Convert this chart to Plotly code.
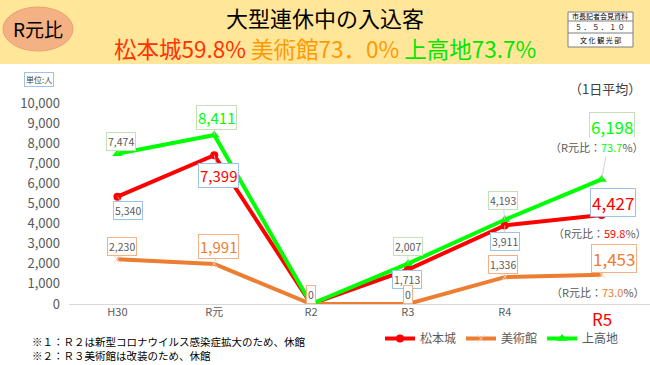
import plotly.graph_objects as go

# ---- data ----
categories = ["H30", "R元", "R2", "R3", "R4", "R5"]
matsumoto = [5340, 7399, 0, 1713, 3911, 4427]
museum = [2230, 1991, 0, 0, 1336, 1453]
kamikochi = [7474, 8411, 0, 2007, 4193, 6198]
tick_labels = ["H30", "R元", "R2", "R3", "R4", ""]
ratio_matsumoto = "59.8"
ratio_museum = "73.0"
ratio_kamikochi = "73.7"

FONT = "Noto Sans CJK JP"
RED = "#FF0000"
ORANGE = "#ED7D31"
GREEN = "#00FF00"
GRAY = "#595959"

W, H = 650, 365
PL, PR, PT, PB = 69, 650, 103, 304


def PX(x):
    return (x - PL) / (PR - PL)


def PY(y):
    return (PB - y) / (PB - PT)


fig = go.Figure()
fig.add_trace(go.Scatter(x=categories, y=matsumoto, name="松本城", mode="lines+markers",
                         line=dict(color=RED, width=4),
                         marker=dict(symbol="circle", size=8, color=RED)))
fig.add_trace(go.Scatter(x=categories, y=museum, name="美術館", mode="lines+markers",
                         line=dict(color=ORANGE, width=4),
                         marker=dict(symbol="x-thin", size=7, color="#F8CBAD",
                                     line=dict(width=1, color="#F8CBAD"))))
fig.add_trace(go.Scatter(x=categories, y=kamikochi, name="上高地", mode="lines+markers",
                         line=dict(color=GREEN, width=4),
                         marker=dict(symbol="triangle-up", size=9, color=GREEN)))

ann = []


def label(cat_i, val, ax, ay, border, big=None, size=10.5):
    txt = f"{val:,}"
    color = GRAY if big is None else big
    ann.append(dict(x=categories[cat_i], y=val, xref="x", yref="y",
                    text=txt, showarrow=True, arrowhead=0, arrowwidth=0.8,
                    arrowcolor="#C8C8C8", ax=ax, ay=ay, standoff=0,
                    bordercolor=border, borderwidth=1, borderpad=1,
                    bgcolor="white", font=dict(family=FONT, size=size, color=color)))


def ptext(xp, yp, text, size, color, xanchor="center", **kw):
    ann.append(dict(x=PX(xp), y=PY(yp), xref="paper", yref="paper", showarrow=False,
                    text=text, xanchor=xanchor, yanchor="middle",
                    font=dict(family=FONT, size=size, color=color), **kw))


BLUE_B = "#9DC3E6"
ORANGE_B = "#F4B183"
GREEN_B = "#C5E0B4"

# 松本城
label(0, matsumoto[0], 11, 14, BLUE_B)
label(1, matsumoto[1], 4, 20, BLUE_B, RED, 15)
label(3, matsumoto[3], -1, 10, BLUE_B)
label(4, matsumoto[4], 0, 16, BLUE_B)
label(5, matsumoto[5], 11, -13, BLUE_B, RED, 17)
# 美術館
label(0, museum[0], 5, -13, ORANGE_B)
label(1, museum[1], 4, -17, ORANGE_B, ORANGE, 15)
label(2, museum[2], 0, -10, ORANGE_B)
label(3, museum[3], 0, -10, ORANGE_B)
label(4, museum[4], -2, -13, ORANGE_B)
label(5, museum[5], 12, -16, ORANGE_B, ORANGE, 17)
# 上高地
label(0, kamikochi[0], 4, -12, GREEN_B)
label(1, kamikochi[1], 2, -17, GREEN_B, GREEN, 15)
label(3, kamikochi[3], 0, -17, GREEN_B)
label(4, kamikochi[4], -2, -19, GREEN_B)
label(5, kamikochi[5], 10, -53, GREEN_B, GREEN, 17)


def ratio(xp, yp, val, color):
    ptext(xp, yp, f"（R元比：<span style='color:{color}'>{val}</span>%）", 11, GRAY,
          bgcolor="white")


ratio(597, 147, ratio_kamikochi, GREEN)
ratio(600, 233, ratio_matsumoto, RED)
ratio(598, 292, ratio_museum, ORANGE)

# R5 tick label
ann.append(dict(x=categories[5], y=PY(318), xref="x", yref="paper", showarrow=False,
                xanchor="center", yanchor="middle",
                text="R5", font=dict(family=FONT, size=17, color=RED)))

# header
ptext(38, 29, "R元比", 19, "#000000")
ptext(325, 17, "大型連休中の入込客", 22, "#000000")
ptext(325, 48, ("<span style='color:#FF3300'>松本城59.8%</span> "
                "<span style='color:#FF9900'>美術館73．0%</span> "
                "<span style='color:#00E600'>上高地73.7%</span>"), 22.5, "#000000")
for yy, t in [(16.5, "市長記者会見資料"), (27, "５ ． ５ ． １ ０"), (40, "文 化 観 光 部")]:
    ptext(600, yy, t, 7, "#000000")

ptext(39, 79, "単位:人", 8, "#404040", bordercolor=BLUE_B, borderwidth=1, borderpad=1)
ptext(605, 88, "（1日平均）", 13, "#404040")

ptext(30, 341, "※１：Ｒ２は新型コロナウイルス感染症拡大のため、休館", 10.5, "#000000", xanchor="left")
ptext(30, 355, "※２：Ｒ３美術館は改装のため、休館", 10.5, "#000000", xanchor="left")

shapes = [
    dict(type="rect", xref="paper", yref="paper", x0=PX(0), x1=PX(650), y0=PY(64), y1=PY(0),
         fillcolor="#FFE699", line=dict(width=0), layer="below"),
    dict(type="circle", xref="paper", yref="paper", x0=PX(3), x1=PX(73), y0=PY(51), y1=PY(7),
         fillcolor="#F4B183", line=dict(width=1, color="#E9A070"), layer="below"),
    dict(type="rect", xref="paper", yref="paper", x0=PX(568), x1=PX(633), y0=PY(47), y1=PY(12),
         fillcolor="white", line=dict(width=1, color="#7F7F7F"), layer="below"),
    dict(type="line", xref="paper", yref="paper", x0=PX(568), x1=PX(633), y0=PY(21), y1=PY(21),
         line=dict(width=1, color="#7F7F7F")),
    dict(type="line", xref="paper", yref="paper", x0=PX(568), x1=PX(633), y0=PY(33), y1=PY(33),
         line=dict(width=1, color="#7F7F7F")),
]

fig.update_layout(
    width=W, height=H,
    margin=dict(l=PL, r=W - PR, t=PT, b=H - PB, autoexpand=False),
    paper_bgcolor="white", plot_bgcolor="white",
    font=dict(family=FONT, color=GRAY),
    annotations=ann, shapes=shapes,
    showlegend=True,
    legend=dict(orientation="h", x=PX(380), y=PY(324), xanchor="left", yanchor="top",
                font=dict(family=FONT, size=12, color=GRAY), bgcolor="rgba(0,0,0,0)",
                itemwidth=30),
    xaxis=dict(type="category", tickvals=categories, ticktext=tick_labels,
               range=[-0.5, 5.5],
               showgrid=False, zeroline=False, showline=False, ticks="",
               tickfont=dict(family=FONT, size=11, color=GRAY)),
    yaxis=dict(range=[0, 10000], dtick=1000, tickformat=",", showgrid=False,
               zeroline=True, zerolinecolor="#D9D9D9", zerolinewidth=1,
               showline=False, ticks="", ticklabelstandoff=8,
               tickfont=dict(family=FONT, size=13, color=GRAY)),
)

fig.write_html("out.html", config={"displayModeBar": False},
               post_script="document.body.style.margin='0px';")
